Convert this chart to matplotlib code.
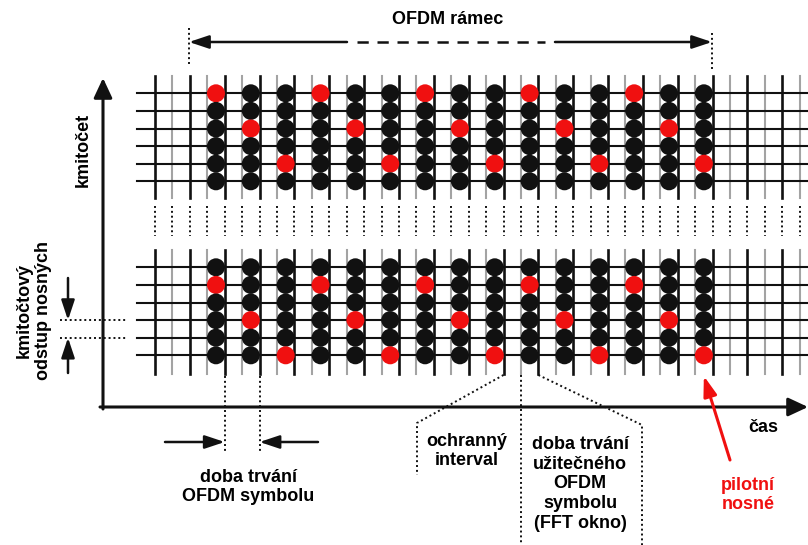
import matplotlib
matplotlib.use("Agg")
import matplotlib.pyplot as plt

# ── data: pilot positions in the OFDM frame ──────────────────────────────────
N_SYMBOLS = 15           # OFDM symbols carrying data in the frame
N_CARRIERS = 6           # subcarriers drawn in each block
TOP_PILOT_ROWS = [0, 2, 4, 0, 2, 4, 0, 2, 4, 0, 2, 4, 0, 2, 4]
BOTTOM_PILOT_ROWS = [1, 3, 5, 1, 3, 5, 1, 3, 5, 1, 3, 5, 1, 3, 5]
N_GRID_LINES = 19        # black (symbol boundary) lines

# ── layout (pixels) ───────────────────────────────────────────────────────────
X0, DX = 155.0, 34.85            # first black line, symbol period
GUARD = 17.4                     # black -> grey line offset
TOP_Y0, BOT_Y0, DY = 93.3, 267.3, 17.6
TOP_SPAN = (76, 198)
BOT_SPAN = (250, 374)
BLACK, GREY, RED = "#111111", "#a3a3a3", "#f01010"
FONT = ["Liberation Sans", "DejaVu Sans"]

plt.rcParams["font.family"] = FONT
fig = plt.figure(figsize=(8.08, 5.45), dpi=100)
ax = fig.add_axes([0, 0, 1, 1])
ax.set_xlim(0, 808)
ax.set_ylim(545, 0)
ax.axis("off")

black_x = [X0 + DX * k for k in range(N_GRID_LINES)]
grey_x = [x + GUARD for x in black_x]
# data part of each symbol sits between a grey and the next black line
dot_x = [grey_x[j + 1] + (DX - GUARD) / 2 for j in range(N_SYMBOLS)]


def draw_block(y0, span, pilots):
    rows = [y0 + DY * i for i in range(N_CARRIERS)]
    for y in rows:
        ax.plot([137, 808], [y, y], color=BLACK, lw=1.5, zorder=2)
    for x in grey_x:
        ax.plot([x, x], span, color=GREY, lw=1.5, zorder=1)
    for x in black_x:
        ax.plot([x, x], span, color=BLACK, lw=1.9, zorder=2)
    for j, x in enumerate(dot_x):
        cols = [RED if i == pilots[j] else BLACK for i in range(N_CARRIERS)]
        ax.scatter([x] * N_CARRIERS, rows, s=168, c=cols, zorder=3,
                   linewidths=0)
    return rows


draw_block(TOP_Y0, TOP_SPAN, TOP_PILOT_ROWS)
bot_rows = draw_block(BOT_Y0, BOT_SPAN, BOTTOM_PILOT_ROWS)

# dotted continuation between the two blocks
for x in sorted(black_x + grey_x):
    ax.plot([x, x], [206, 236], color=BLACK, lw=1.4, ls=(0, (1, 1.5)))

dot = dict(color=BLACK, lw=1.4, ls=(0, (1, 1.5)))
head = dict(arrowstyle="-|>,head_length=0.6,head_width=0.28", color=BLACK,
            lw=2.2, mutation_scale=20, shrinkA=0, shrinkB=0)
small = dict(head, lw=1.8, arrowstyle="-|>,head_length=0.6,head_width=0.2")

# axes arrows
ax.annotate("", xy=(808, 407), xytext=(100, 407), arrowprops=head)
ax.annotate("", xy=(103, 78), xytext=(103, 409), arrowprops=head)

# OFDM frame arrow
ax.plot([189, 189], [28, 64], **dot)
ax.plot([712, 712], [33, 70], **dot)
ax.annotate("", xy=(189, 42), xytext=(347, 42), arrowprops=small)
ax.annotate("", xy=(712, 42), xytext=(555, 42), arrowprops=small)
ax.plot([357, 545], [42, 42], color=BLACK, lw=1.8, ls=(0, (4.5, 3.5)))
ax.text(448, 20, "OFDM rámec", ha="center", va="center", fontsize=13,
        fontweight="bold")

# frequency axis label and subcarrier spacing
ax.text(83, 150, "kmitočet", ha="center", va="center", rotation=90,
        fontsize=13, fontweight="bold")
ax.text(34, 310, "kmitočtový\nodstup nosných", ha="center", va="center",
        rotation=90, fontsize=13, fontweight="bold", linespacing=1.2)
for y in bot_rows[3:5]:
    ax.plot([60, 128], [y, y], **dot)
ax.annotate("", xy=(68, bot_rows[3]), xytext=(68, 278), arrowprops=small)
ax.annotate("", xy=(68, bot_rows[4]), xytext=(68, 373), arrowprops=small)

# OFDM symbol duration
sym_l, sym_r = black_x[2], black_x[3]
ax.plot([sym_l, sym_l], [376, 452], **dot)
ax.plot([sym_r, sym_r], [376, 452], **dot)
ax.annotate("", xy=(sym_l, 442), xytext=(165, 442), arrowprops=small)
ax.annotate("", xy=(sym_r, 442), xytext=(318, 442), arrowprops=small)
ax.text(248, 487, "doba trvání\nOFDM symbolu", ha="center", va="center",
        fontsize=13, fontweight="bold", linespacing=1.2)

# guard interval / useful part
g0, g1, g2 = black_x[10], grey_x[10], black_x[11]
ax.plot([g0, 417, 417], [375, 423, 475], **dot)
ax.plot([g1, g1], [375, 545], **dot)
ax.plot([g2, 642, 642], [375, 425, 545], **dot)
ax.text(467, 451, "ochranný\ninterval", ha="center", va="center",
        fontsize=13, fontweight="bold", linespacing=1.2)
ax.text(580, 484, "doba trvání\nužitečného\nOFDM\nsymbolu\n(FFT okno)",
        ha="center", va="center", fontsize=13, fontweight="bold",
        linespacing=1.2)

# time label and pilot annotation
ax.text(763, 428, "čas", ha="center", va="center", fontsize=13,
        fontweight="bold")
ax.annotate("", xy=(dot_x[-1], 376), xytext=(730, 460),
            arrowprops=dict(small, color=RED, lw=2.2))
ax.text(748, 495, "pilotní\nnosné", ha="center", va="center", fontsize=13,
        fontweight="bold", color=RED, linespacing=1.2)

fig.savefig("out.png", dpi=100)
